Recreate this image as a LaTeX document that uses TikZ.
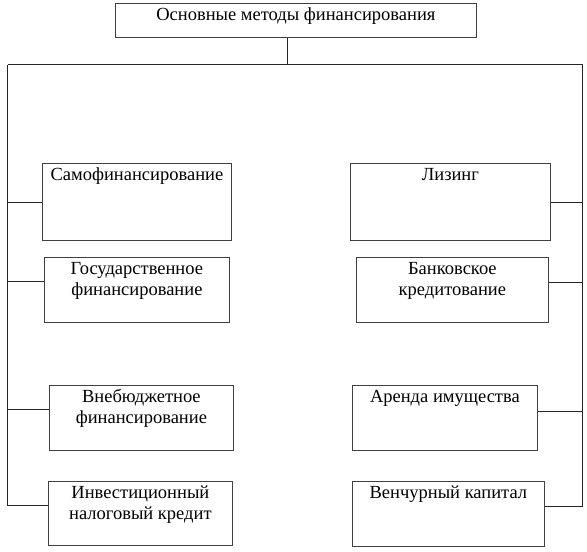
\documentclass[tikz,border=0pt]{standalone}
\usepackage{fontspec}
\setmainfont{Liberation Serif}
\newcommand{\boxtxt}[3]{\parbox[b][#2pt][t]{#1pt}{\centering\fontsize{18.5pt}{21pt}\selectfont\rule{0pt}{17.5pt}#3\par}}
\tikzset{
  mbox/.style={draw=black!75, line width=0.8pt, inner sep=0pt, anchor=north west},
  conn/.style={draw=black!85, line width=0.8pt}
}
\begin{document}
\begin{tikzpicture}[x=1pt,y=-1pt]
\useasboundingbox (0,0) rectangle (587,552);
% top
\node[mbox] (top) at (115,3) {\boxtxt{361}{34}{Основные методы финансирования}};
% left column
\node[mbox] (l1) at (42,163) {\boxtxt{189}{77}{Самофинансирование}};
\node[mbox] (l2) at (44,257) {\boxtxt{185}{65}{Государственное\\финансирование}};
\node[mbox] (l3) at (49,385) {\boxtxt{184}{65}{Внебюджетное\\финансирование}};
\node[mbox] (l4) at (48,481) {\boxtxt{184}{64}{Инвестиционный\\налоговый кредит}};
% right column
\node[mbox] (r1) at (350,163) {\boxtxt{200}{77}{Лизинг}};
\node[mbox] (r2) at (356,257) {\boxtxt{192}{65}{Банковское\\кредитование}};
\node[mbox] (r3) at (352,385) {\boxtxt{185}{65}{Аренда имущества}};
\node[mbox] (r4) at (352,481) {\boxtxt{192}{65}{Венчурный капитал}};
% trunk
\coordinate (hub) at (287.5,64.5);
\coordinate (lt) at (7.5,64.5);
\coordinate (rt) at (582.5,64.5);
\draw[conn] (top.south -| hub) -- (hub);
\draw[conn] (lt) -- (rt);
% left spine
\coordinate (lb) at (7.5,505);
\draw[conn] (lt) -- (lb) -- (lb -| l4.west);
\draw[conn] (lt |- 0,202) -- (l1.west |- 0,202);
\draw[conn] (lt |- 0,281) -- (l2.west |- 0,281);
\draw[conn] (lt |- 0,409) -- (l3.west |- 0,409);
% right spine
\coordinate (rb) at (582.5,506);
\draw[conn] (rt) -- (rb) -- (rb -| r4.east);
\draw[conn] (rt |- 0,202) -- (r1.east |- 0,202);
\draw[conn] (rt |- 0,282) -- (r2.east |- 0,282);
\draw[conn] (rt |- 0,411) -- (r3.east |- 0,411);
\end{tikzpicture}
\end{document}
